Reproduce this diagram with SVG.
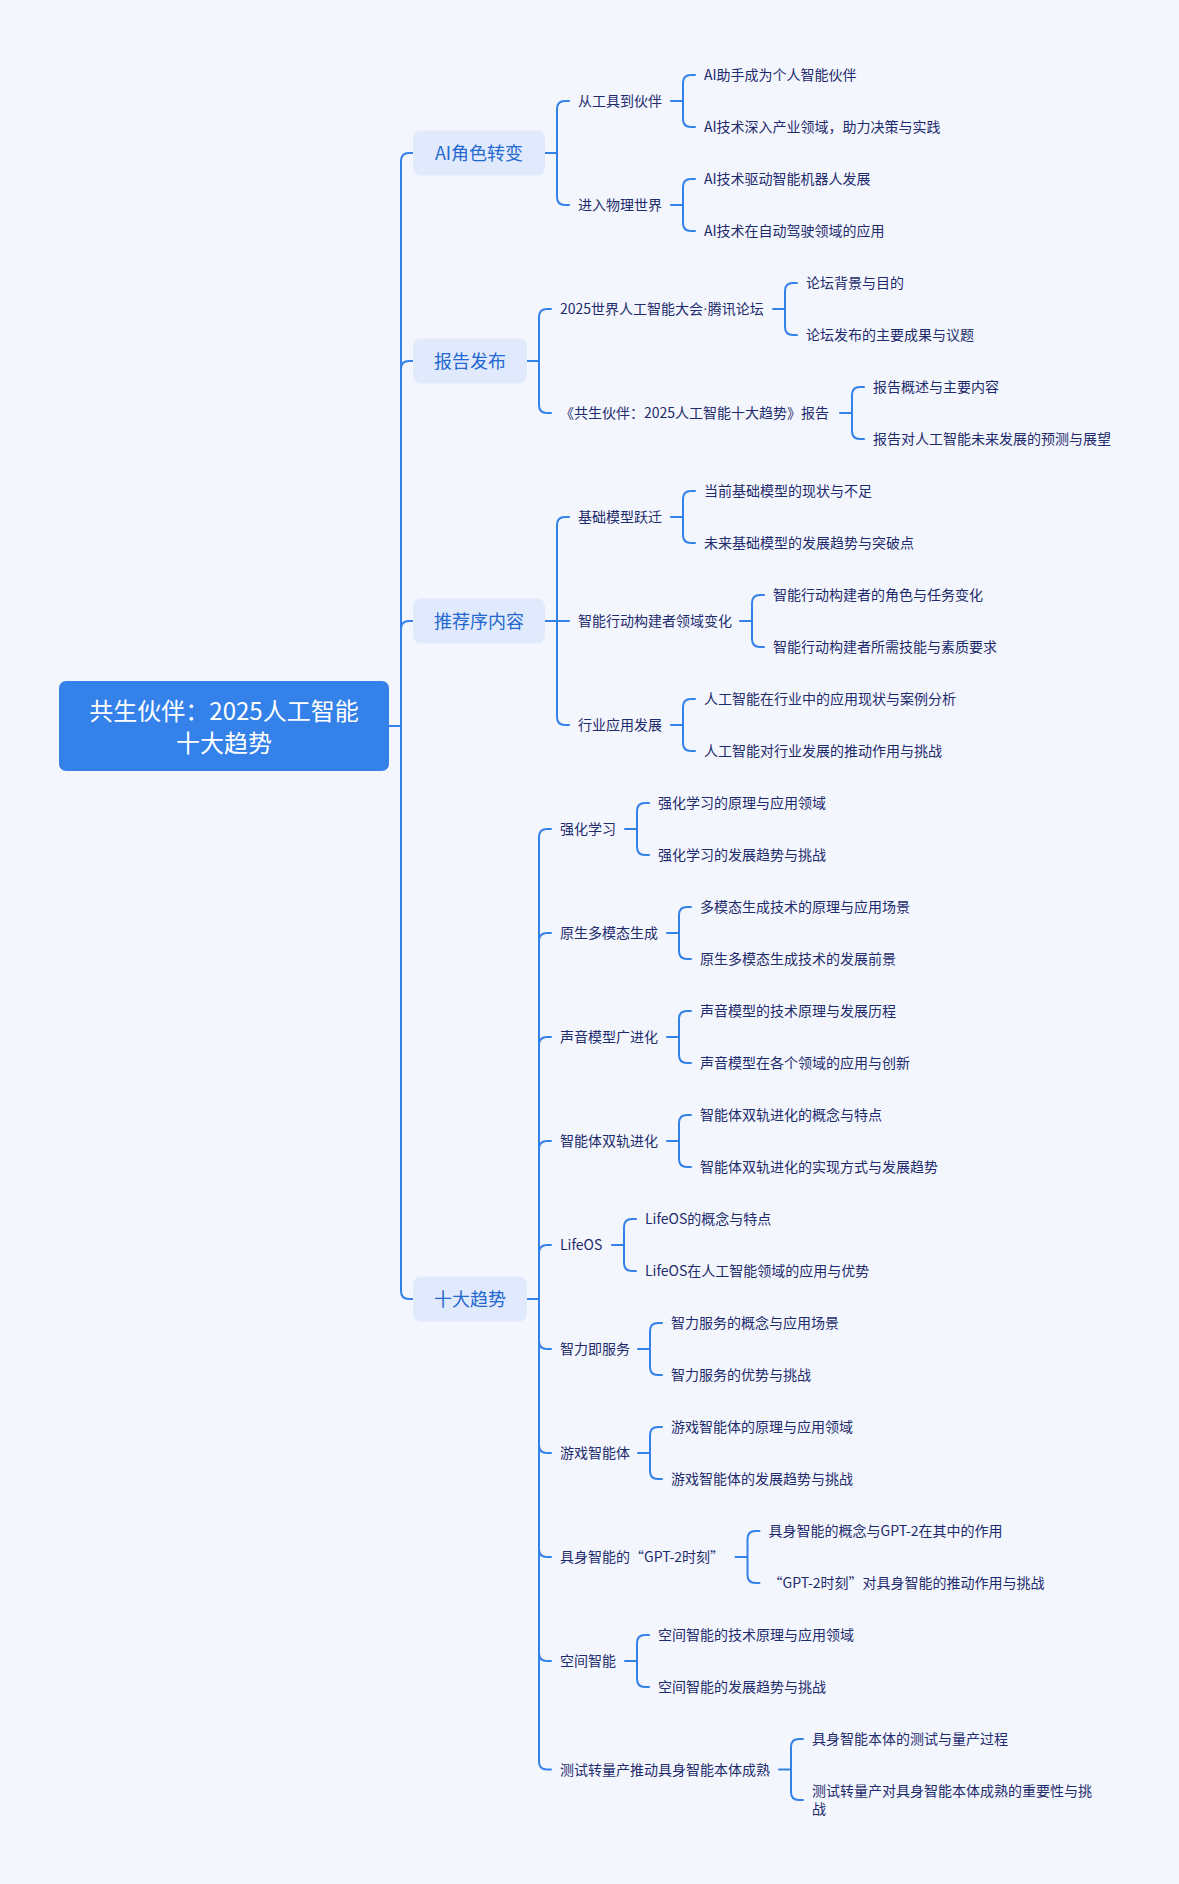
<svg xmlns="http://www.w3.org/2000/svg" width="1179" height="1884" viewBox="0 0 1179 1884">
<style>
.bg{fill:#f4f6fe}
.ln{fill:none;stroke:#3381e9;stroke-width:2;stroke-linecap:round;stroke-linejoin:round}
.root{fill:#3381e9}
.rt{fill:#ffffff;font-family:"Noto Sans CJK SC","Noto Sans",sans-serif;font-size:24px;text-anchor:middle;dominant-baseline:central}
.l1{fill:#e1eafd}
.l1t{fill:#2468cf;font-family:"Noto Sans CJK SC","Noto Sans",sans-serif;font-size:18px;text-anchor:middle;dominant-baseline:central}
.t{fill:#1d2b6c;font-family:"Noto Sans CJK SC","Noto Sans",sans-serif;font-size:14px;dominant-baseline:central}
.nd{font-family:"Liberation Sans",sans-serif}
</style>
<rect class="bg" x="0" y="0" width="1179" height="1884"/>
<g id="connectors">
<path class="ln" d="M389 726H401M401 726V161Q401 153 409 153H413M401 726V369Q401 361 409 361H413M401 726V629Q401 621 409 621H413M401 726V1291Q401 1299 409 1299H413"/>
<path class="ln" d="M545 153H557M557 153V109Q557 101 565 101H569M557 153V197Q557 205 565 205H569"/>
<path class="ln" d="M671 101H683M683 101V83Q683 75 691 75H695M683 101V119Q683 127 691 127H695"/>
<path class="ln" d="M671 205H683M683 205V187Q683 179 691 179H695M683 205V223Q683 231 691 231H695"/>
<path class="ln" d="M527 361H539M539 361V317Q539 309 547 309H551M539 361V405Q539 413 547 413H551"/>
<path class="ln" d="M773 309H785M785 309V291Q785 283 793 283H797M785 309V327Q785 335 793 335H797"/>
<path class="ln" d="M840 413H852M852 413V395Q852 387 860 387H864M852 413V431Q852 439 860 439H864"/>
<path class="ln" d="M545 621H569M557 621V525Q557 517 565 517H569M557 621V717Q557 725 565 725H569"/>
<path class="ln" d="M671 517H683M683 517V499Q683 491 691 491H695M683 517V535Q683 543 691 543H695"/>
<path class="ln" d="M740 621H752M752 621V603Q752 595 760 595H764M752 621V639Q752 647 760 647H764"/>
<path class="ln" d="M671 725H683M683 725V707Q683 699 691 699H695M683 725V743Q683 751 691 751H695"/>
<path class="ln" d="M527 1299H539M539 1299V837Q539 829 547 829H551M539 1299V941Q539 933 547 933H551M539 1299V1045Q539 1037 547 1037H551M539 1299V1149Q539 1141 547 1141H551M539 1299V1253Q539 1245 547 1245H551M539 1299V1341Q539 1349 547 1349H551M539 1299V1445Q539 1453 547 1453H551M539 1299V1549Q539 1557 547 1557H551M539 1299V1653Q539 1661 547 1661H551M539 1299V1761.5Q539 1769.5 547 1769.5H551"/>
<path class="ln" d="M625 829H637M637 829V811Q637 803 645 803H649M637 829V847Q637 855 645 855H649"/>
<path class="ln" d="M667 933H679M679 933V915Q679 907 687 907H691M679 933V951Q679 959 687 959H691"/>
<path class="ln" d="M667 1037H679M679 1037V1019Q679 1011 687 1011H691M679 1037V1055Q679 1063 687 1063H691"/>
<path class="ln" d="M667 1141H679M679 1141V1123Q679 1115 687 1115H691M679 1141V1159Q679 1167 687 1167H691"/>
<path class="ln" d="M612 1245H624M624 1245V1227Q624 1219 632 1219H636M624 1245V1263Q624 1271 632 1271H636"/>
<path class="ln" d="M638 1349H650M650 1349V1331Q650 1323 658 1323H662M650 1349V1367Q650 1375 658 1375H662"/>
<path class="ln" d="M638 1453H650M650 1453V1435Q650 1427 658 1427H662M650 1453V1471Q650 1479 658 1479H662"/>
<path class="ln" d="M735.5 1557H747.5M747.5 1557V1539Q747.5 1531 755.5 1531H759.5M747.5 1557V1575Q747.5 1583 755.5 1583H759.5"/>
<path class="ln" d="M625 1661H637M637 1661V1643Q637 1635 645 1635H649M637 1661V1679Q637 1687 645 1687H649"/>
<path class="ln" d="M779 1769.5H791M791 1769.5V1747Q791 1739 799 1739H803M791 1769.5V1792Q791 1800 799 1800H803"/>
</g>
<g id="root">
<rect class="root" x="59" y="681" width="330" height="90" rx="7"/>
<text class="rt" x="224" y="709">共生伙伴：2025人工智能</text>
<text class="rt" x="224" y="741">十大趋势</text>
</g>
<g id="n-ai"><rect class="l1" x="413" y="130.5" width="132" height="45" rx="8"/><text class="l1t" x="479" y="152">AI角色转变</text></g>
<g id="n-report"><rect class="l1" x="413" y="338.5" width="114" height="45" rx="8"/><text class="l1t" x="470" y="360">报告发布</text></g>
<g id="n-preface"><rect class="l1" x="413" y="598.5" width="132" height="45" rx="8"/><text class="l1t" x="479" y="620">推荐序内容</text></g>
<g id="n-trends"><rect class="l1" x="413" y="1276.5" width="114" height="45" rx="8"/><text class="l1t" x="470" y="1298">十大趋势</text></g>
<g id="n-ai-1"><text class="t" x="578" y="100">从工具到伙伴</text></g>
<g id="n-ai-1-1"><text class="t" x="704" y="74">AI助手成为个人智能伙伴</text></g>
<g id="n-ai-1-2"><text class="t" x="704" y="126">AI技术深入产业领域，助力决策与实践</text></g>
<g id="n-ai-2"><text class="t" x="578" y="204">进入物理世界</text></g>
<g id="n-ai-2-1"><text class="t" x="704" y="178">AI技术驱动智能机器人发展</text></g>
<g id="n-ai-2-2"><text class="t" x="704" y="230">AI技术在自动驾驶领域的应用</text></g>
<g id="n-rp-1"><text class="t" x="560" y="308">2025世界人工智能大会<tspan class="nd">·</tspan>腾讯论坛</text></g>
<g id="n-rp-1-1"><text class="t" x="806" y="282">论坛背景与目的</text></g>
<g id="n-rp-1-2"><text class="t" x="806" y="334">论坛发布的主要成果与议题</text></g>
<g id="n-rp-2"><text class="t" x="560" y="412">《共生伙伴：2025人工智能十大趋势》报告</text></g>
<g id="n-rp-2-1"><text class="t" x="873" y="386">报告概述与主要内容</text></g>
<g id="n-rp-2-2"><text class="t" x="873" y="438">报告对人工智能未来发展的预测与展望</text></g>
<g id="n-pf-1"><text class="t" x="578" y="516">基础模型跃迁</text></g>
<g id="n-pf-1-1"><text class="t" x="704" y="490">当前基础模型的现状与不足</text></g>
<g id="n-pf-1-2"><text class="t" x="704" y="542">未来基础模型的发展趋势与突破点</text></g>
<g id="n-pf-2"><text class="t" x="578" y="620">智能行动构建者领域变化</text></g>
<g id="n-pf-2-1"><text class="t" x="773" y="594">智能行动构建者的角色与任务变化</text></g>
<g id="n-pf-2-2"><text class="t" x="773" y="646">智能行动构建者所需技能与素质要求</text></g>
<g id="n-pf-3"><text class="t" x="578" y="724">行业应用发展</text></g>
<g id="n-pf-3-1"><text class="t" x="704" y="698">人工智能在行业中的应用现状与案例分析</text></g>
<g id="n-pf-3-2"><text class="t" x="704" y="750">人工智能对行业发展的推动作用与挑战</text></g>
<g id="n-tr-1"><text class="t" x="560" y="828">强化学习</text></g>
<g id="n-tr-1-1"><text class="t" x="658" y="802">强化学习的原理与应用领域</text></g>
<g id="n-tr-1-2"><text class="t" x="658" y="854">强化学习的发展趋势与挑战</text></g>
<g id="n-tr-2"><text class="t" x="560" y="932">原生多模态生成</text></g>
<g id="n-tr-2-1"><text class="t" x="700" y="906">多模态生成技术的原理与应用场景</text></g>
<g id="n-tr-2-2"><text class="t" x="700" y="958">原生多模态生成技术的发展前景</text></g>
<g id="n-tr-3"><text class="t" x="560" y="1036">声音模型广进化</text></g>
<g id="n-tr-3-1"><text class="t" x="700" y="1010">声音模型的技术原理与发展历程</text></g>
<g id="n-tr-3-2"><text class="t" x="700" y="1062">声音模型在各个领域的应用与创新</text></g>
<g id="n-tr-4"><text class="t" x="560" y="1140">智能体双轨进化</text></g>
<g id="n-tr-4-1"><text class="t" x="700" y="1114">智能体双轨进化的概念与特点</text></g>
<g id="n-tr-4-2"><text class="t" x="700" y="1166">智能体双轨进化的实现方式与发展趋势</text></g>
<g id="n-tr-5"><text class="t" x="560" y="1244">LifeOS</text></g>
<g id="n-tr-5-1"><text class="t" x="645" y="1218">LifeOS的概念与特点</text></g>
<g id="n-tr-5-2"><text class="t" x="645" y="1270">LifeOS在人工智能领域的应用与优势</text></g>
<g id="n-tr-6"><text class="t" x="560" y="1348">智力即服务</text></g>
<g id="n-tr-6-1"><text class="t" x="671" y="1322">智力服务的概念与应用场景</text></g>
<g id="n-tr-6-2"><text class="t" x="671" y="1374">智力服务的优势与挑战</text></g>
<g id="n-tr-7"><text class="t" x="560" y="1452">游戏智能体</text></g>
<g id="n-tr-7-1"><text class="t" x="671" y="1426">游戏智能体的原理与应用领域</text></g>
<g id="n-tr-7-2"><text class="t" x="671" y="1478">游戏智能体的发展趋势与挑战</text></g>
<g id="n-tr-8"><text class="t" x="560" y="1556">具身智能的“GPT-2时刻”</text></g>
<g id="n-tr-8-1"><text class="t" x="768.5" y="1530">具身智能的概念与GPT-2在其中的作用</text></g>
<g id="n-tr-8-2"><text class="t" x="768.5" y="1582">“GPT-2时刻”对具身智能的推动作用与挑战</text></g>
<g id="n-tr-9"><text class="t" x="560" y="1660">空间智能</text></g>
<g id="n-tr-9-1"><text class="t" x="658" y="1634">空间智能的技术原理与应用领域</text></g>
<g id="n-tr-9-2"><text class="t" x="658" y="1686">空间智能的发展趋势与挑战</text></g>
<g id="n-tr-10"><text class="t" x="560" y="1768.5">测试转量产推动具身智能本体成熟</text></g>
<g id="n-tr-10-1"><text class="t" x="812" y="1738">具身智能本体的测试与量产过程</text></g>
<g id="n-tr-10-2"><text class="t" x="812" y="1790">测试转量产对具身智能本体成熟的重要性与挑</text><text class="t" x="812" y="1808">战</text></g>
</svg>
